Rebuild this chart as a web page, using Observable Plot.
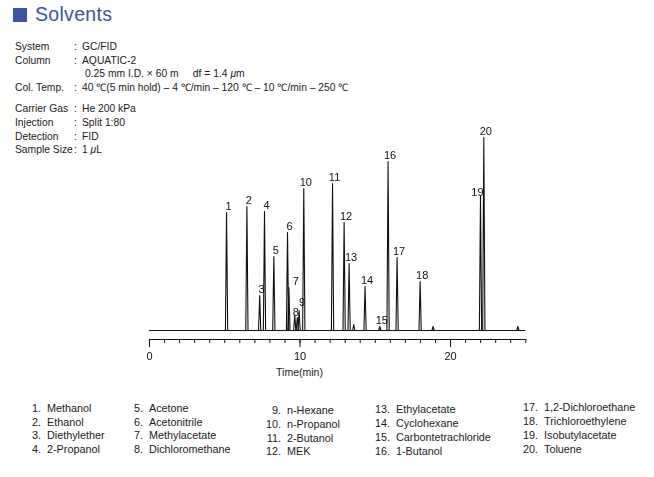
<!DOCTYPE html>
<html>
<head>
<meta charset="utf-8">
<script src="https://cdn.jsdelivr.net/npm/d3@7"></script>
<script src="https://cdn.jsdelivr.net/npm/@observablehq/plot@0.6"></script>
<style>
  html, body { margin: 0; padding: 0; background: #fff; }
  body { width: 654px; height: 477px; position: relative; overflow: hidden;
         font-family: "Liberation Sans", Arial, Helvetica, sans-serif; color: #1a1a1a; }
  .abs { position: absolute; white-space: nowrap; }
  #title { left: 13px; top: 4px; font-size: 19.5px; color: #3c54a6; letter-spacing: 0.3px; line-height: 20px; }
  #title .sq { display: inline-block; width: 14px; height: 14px; background: #3c54a6; margin-right: 8px; vertical-align: -1px; }
  .param { font-size: 10.3px; line-height: 12px; }
  .param .k { position: absolute; left: 0; }
  .param .c { position: absolute; left: 59px; }
  .param .v { position: absolute; left: 67px; }
  #chart { position: absolute; left: 130px; top: 118px; }
  #chart svg { filter: grayscale(1); }
  #xlabel { font-size: 10.5px; }
  .leg { font-size: 10.8px; line-height: 12px; }
  .leg .n { position: absolute; text-align: right; width: 20px; }
  .leg .t { position: absolute; left: 26px; }
</style>
</head>
<body>
<div id="title" class="abs"><span class="sq"></span>Solvents</div>
<div id="params"></div>
<div id="chart"></div>
<div id="xlabel" class="abs">Time(min)</div>
<div id="legend"></div>
<script>
// ---- data ----
const peakTimes   = [5.12, 6.47, 7.32, 7.64, 8.26, 9.17, 9.26, 9.65, 9.82, 9.94, 10.25, 12.16, 12.93, 13.26, 13.57, 14.32, 15.30, 15.85, 16.45, 17.98, 18.84, 21.99, 22.21, 24.47];
const peakHeights = [118,  124,  35,   119,  74,   98,   43,   15,   13,   20,   142,   147,   108,   67,    6,     44,    4,     169,   73,    49,    4,     135,   193,   4];
const peakLabels  = ["1", "2", "3", "4", "5", "6", "7", "8", "", "9", "10", "11", "12", "13", "", "14", "15", "16", "17", "18", "", "19", "20", ""];
const compoundNames = ["Methanol", "Ethanol", "Diethylether", "2-Propanol", "Acetone", "Acetonitrile", "Methylacetate", "Dichloromethane",
  "n-Hexane", "n-Propanol", "2-Butanol", "MEK", "Ethylacetate", "Cyclohexane", "Carbontetrachloride", "1-Butanol",
  "1,2-Dichloroethane", "Trichloroethylene", "Isobutylacetate", "Toluene"];
const timeDomain  = [0, 25];
const minorTicks  = [0, 1, 2, 3, 4, 5, 6, 7, 8, 9, 10, 11, 12, 13, 14, 15, 16, 17, 18, 19, 20, 21, 22, 23, 24, 25];
const majorTicks  = [0, 10, 20];
const paramKeys   = ["System", "Column", "", "Col. Temp.", "Carrier Gas", "Injection", "Detection", "Sample Size"];
const paramValues = ["GC/FID", "AQUATIC-2", "0.25 mm I.D. × 60 m&nbsp;&nbsp;&nbsp;&nbsp;&nbsp;df = 1.4 <i>μ</i>m",
  "40 ℃(5 min hold) – 4 ℃/min – 120 ℃ – 10 ℃/min – 250 ℃", "He 200 kPa", "Split 1:80", "FID", "1 <i>μ</i>L"];

// ---- layout / style (not data) ----
const paramTops = [41, 55, 68, 82, 103, 117, 131, 144];
const legendCols = [{x: 21, tops: [402, 416, 429, 443]}, {x: 123, tops: [402, 416, 429, 443]},
  {x: 261, tops: [404, 418, 432, 445]}, {x: 370, tops: [403, 417, 431, 445]}, {x: 518, tops: [401, 415, 429, 443]}];
const labelNudge = {"7": [5, 0], "8": [-1, 2.5], "9": [1, -2], "19": [-5, 2.5]};
const halfWidth = 0.075;

// params
const pEl = document.getElementById("params");
paramKeys.forEach((k, i) => {
  const row = document.createElement("div");
  row.className = "abs param";
  row.style.left = "15px"; row.style.top = paramTops[i] + "px";
  row.innerHTML = `<span class="k">${k}</span>${k ? '<span class="c">:</span>' : ''}<span class="v" style="left:${k ? 67 : 70}px">${paramValues[i]}</span>`;
  pEl.appendChild(row);
});

// legend
const lEl = document.getElementById("legend");
compoundNames.forEach((name, i) => {
  const col = legendCols[Math.floor(i / 4)];
  const row = document.createElement("div");
  row.className = "abs leg";
  row.style.left = col.x + "px"; row.style.top = col.tops[i % 4] + "px";
  row.innerHTML = `<span class="n">${i + 1}.</span><span class="t">${name}</span>`;
  lEl.appendChild(row);
});

// chart
const peaks = peakTimes.map((t, i) => ({t, h: peakHeights[i], label: peakLabels[i], id: i}));
const trace = peaks.flatMap(p => [
  {t: p.t - halfWidth, v: 0, id: p.id},
  {t: p.t, v: p.h, id: p.id},
  {t: p.t + halfWidth, v: 0, id: p.id}
]);

const labelMarks = peaks.filter(p => p.label).map(p => {
  const [ndx, ndy] = labelNudge[p.label] || [0, 0];
  return Plot.text([p], {x: "t", y: "h", text: "label", lineAnchor: "bottom", dx: 2 + ndx, dy: -2.5 + ndy,
    fontSize: 11, fill: "#111"});
});

const chart = Plot.plot({
  width: 524, height: 272,
  marginLeft: 19, marginRight: 128.7, marginTop: 12, marginBottom: 51,
  x: {domain: timeDomain, axis: null, label: null},
  y: {domain: [-9, 200], axis: null, label: null},
  style: {fontFamily: '"Liberation Sans", Arial, sans-serif', fontSize: "11px", color: "#111", background: "#fff"},
  marks: [
    Plot.ruleY([0], {x1: timeDomain[0], x2: timeDomain[1], stroke: "#111", strokeWidth: 1}),
    Plot.line(trace, {x: "t", y: "v", z: "id", stroke: "#111", strokeWidth: 1.1, curve: "linear"}),
    ...labelMarks,
    Plot.axisX({ticks: minorTicks, tickSize: 4, tickFormat: () => "", stroke: "#111", label: null}),
    Plot.axisX({ticks: majorTicks, tickSize: 8, tickPadding: 5, tickFormat: d => String(d), fontSize: 11, fill: "#111", stroke: "#111", label: null}),
    Plot.frame({anchor: "bottom", stroke: "#111"})
  ]
});
document.getElementById("chart").appendChild(chart);

const xl = document.getElementById("xlabel");
xl.style.left = (130 + 19 + (10 / 25) * (524 - 19 - 128.7)) + "px";
xl.style.top = "366px";
xl.style.transform = "translateX(-50%)";
</script>
</body>
</html>
